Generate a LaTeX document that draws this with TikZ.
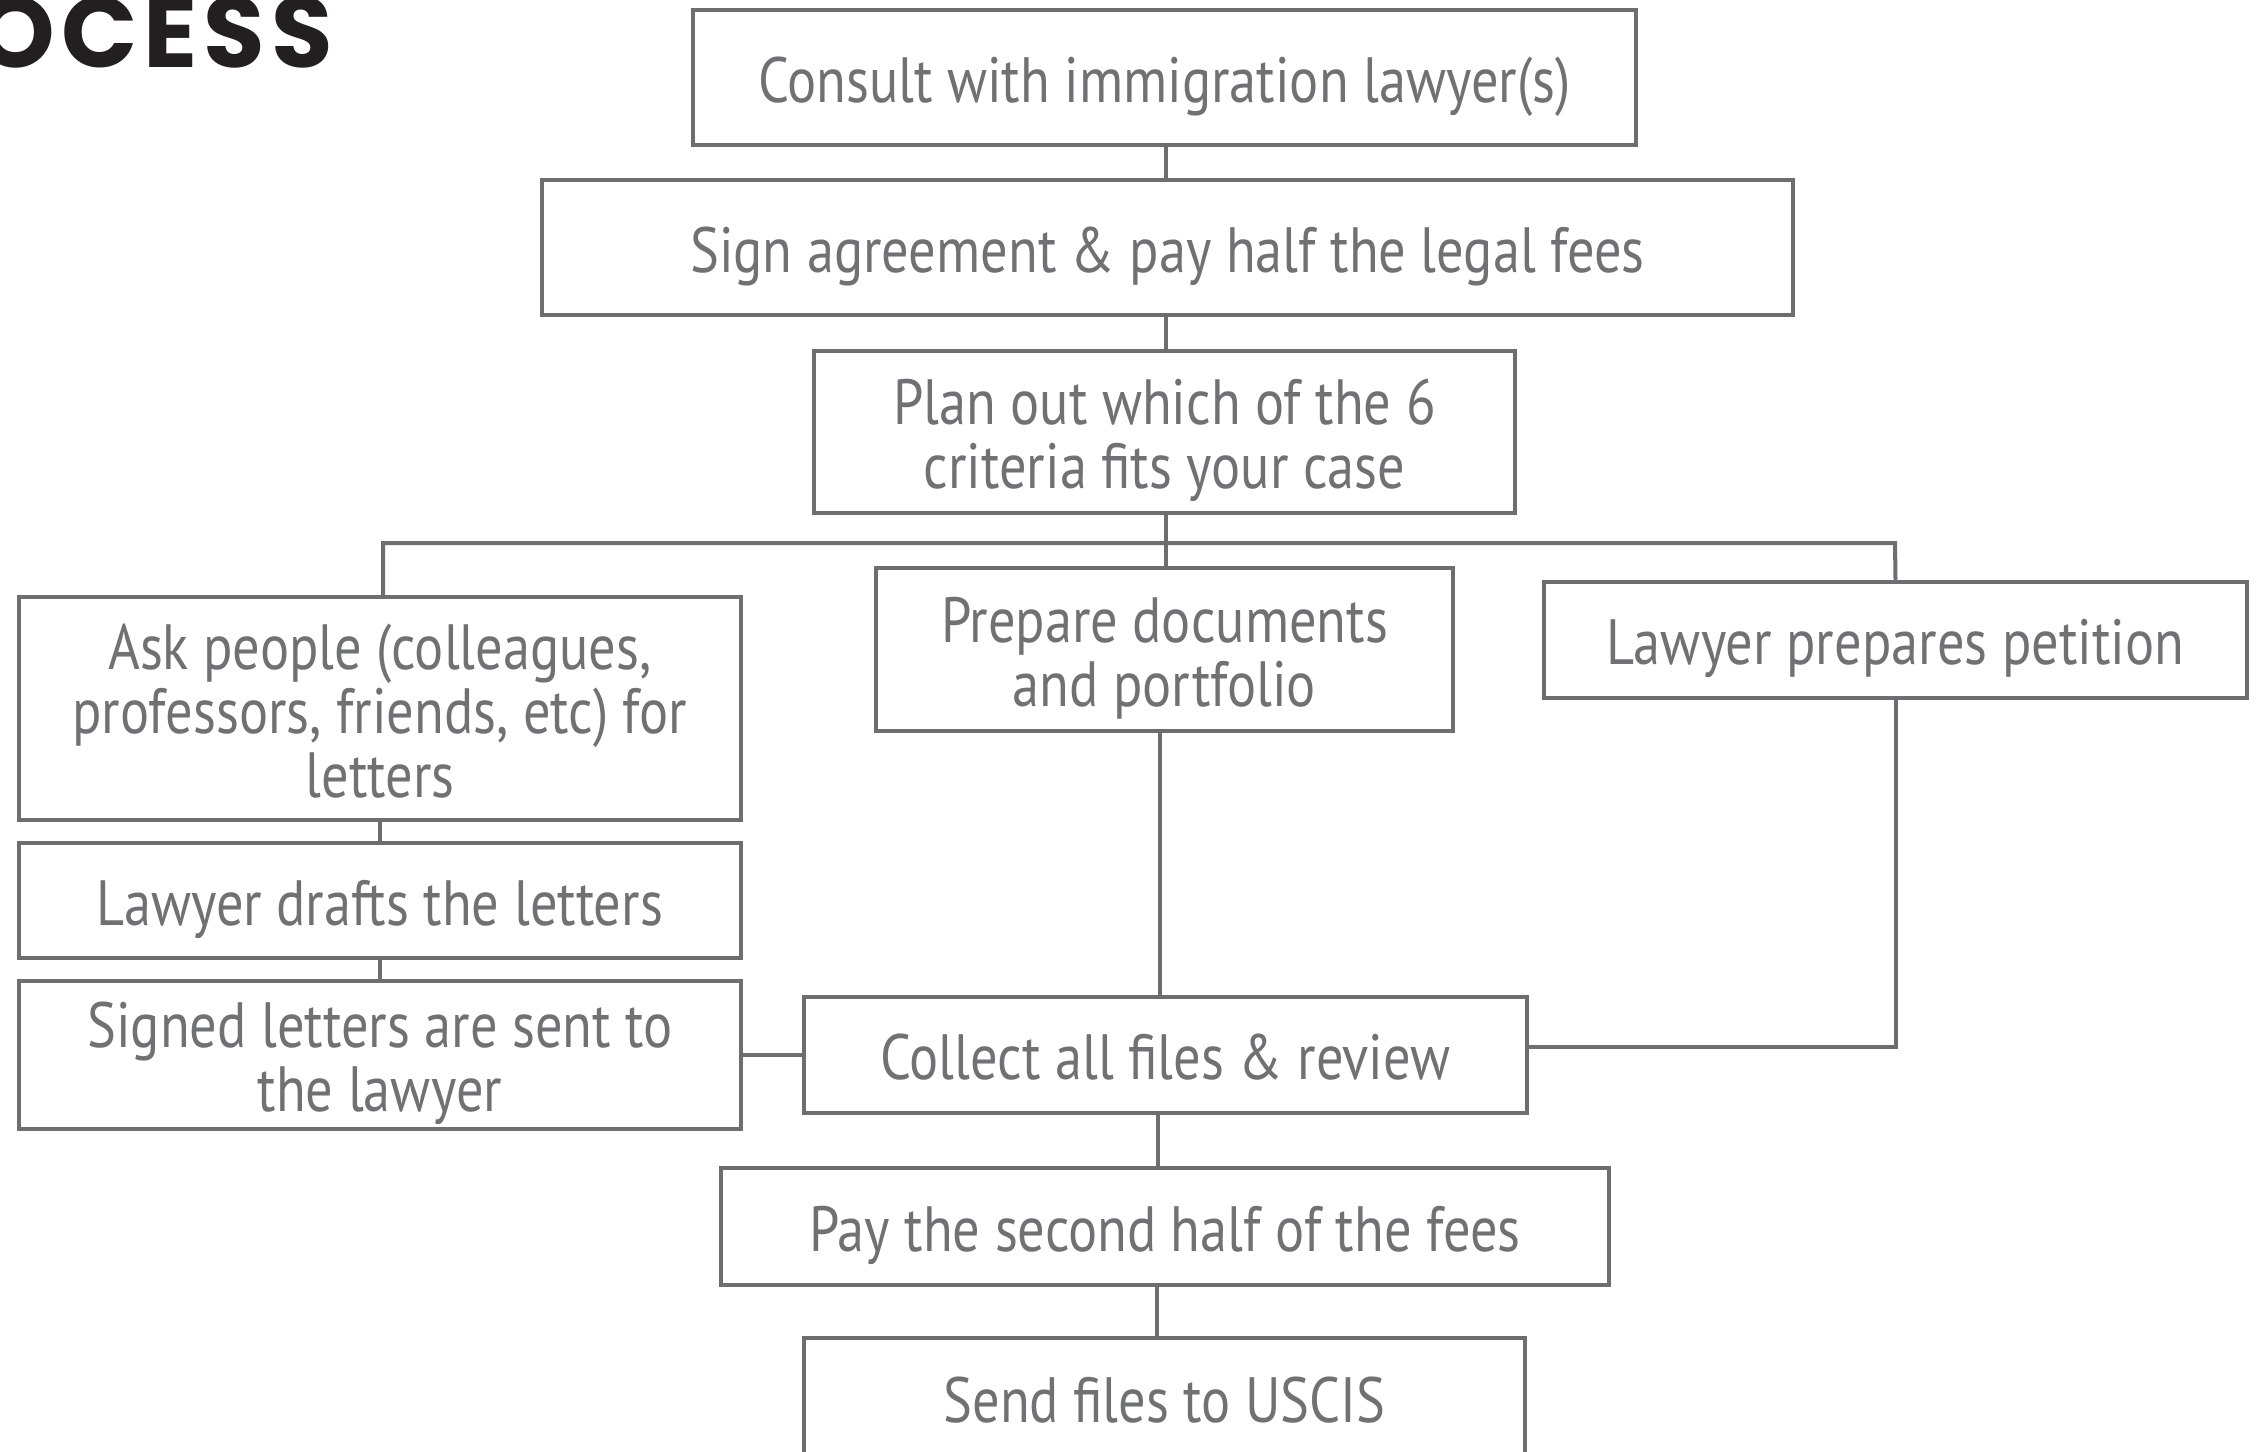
\documentclass[tikz,border=0pt]{standalone}
\usepackage{fontspec}
\setmainfont{PT Sans}[FakeStretch=0.85]
\newfontfamily\titlefont{Poppins}[LetterSpace=6]
\usetikzlibrary{calc}
\definecolor{boxgray}{HTML}{6D6E71}
\definecolor{textgray}{HTML}{707174}
\definecolor{titledark}{HTML}{231F20}
\newcommand{\tops}{\rule{0pt}{65pt}}
\newcommand{\bots}{\rule[-16pt]{0pt}{0pt}}
\tikzset{
  stepbox/.style={draw=boxgray, line width=4.5pt, rectangle, inner sep=0pt,
    text=textgray, align=center, font=\fontsize{64}{64}\selectfont},
  link/.style={draw=boxgray, line width=4pt}
}
\begin{document}
\begin{tikzpicture}[x=1pt,y=-1pt]
\useasboundingbox[fill=white] (0,0) rectangle (2256,1451);
\node[anchor=base east, text=titledark, inner sep=0pt,
  font=\titlefont\bfseries\fontsize{100}{100}\selectfont] (title) at (333,67) {OCESS};

\node[stepbox, minimum width=943, minimum height=135] (consult) at (1164.5,77.5) {\tops Consult with immigration lawyer(s)\bots};
\node[stepbox, minimum width=1251, minimum height=135] (sign) at (1167.5,247.5) {\tops Sign agreement \& pay half the legal fees\bots};
\node[stepbox, minimum width=701, minimum height=162] (plan) at (1164.5,432) {\tops Plan out which of the 6\\criteria fits your case\bots};
\node[stepbox, minimum width=722, minimum height=223] (ask) at (380,708.5) {\tops Ask people (colleagues,\\professors, friends, etc) for\\letters\bots};
\node[stepbox, minimum width=577, minimum height=163] (prep) at (1164.5,649.5) {\tops Prepare documents\\and portfolio\bots};
\node[stepbox, minimum width=703, minimum height=116] (petition) at (1895.5,640) {\tops Lawyer prepares petition\bots};
\node[stepbox, minimum width=722, minimum height=115] (drafts) at (380,900.5) {\tops Lawyer drafts the letters\bots};
\node[stepbox, minimum width=722, minimum height=148] (signed) at (380,1055) {\tops Signed letters are sent to\\the lawyer\bots};
\node[stepbox, minimum width=723, minimum height=116] (collect) at (1165.5,1055) {\tops Collect all files \& review\bots};
\node[stepbox, minimum width=888, minimum height=117] (pay) at (1165,1226.5) {\tops Pay the second half of the fees\bots};
\node[stepbox, minimum width=721, minimum height=120] (send) at (1164.5,1398) {\tops Send files to USCIS\bots};

\coordinate (bl) at (383,543);
\coordinate (br) at (1895,543);

\draw[link] ([xshift=1.5pt]consult.south) -- ([xshift=1.5pt]consult.south |- sign.north);
\draw[link] ([xshift=1.5pt]plan.north |- sign.south) -- ([xshift=1.5pt]plan.north);
\draw[link] ([xshift=1.5pt]plan.south) -- ([xshift=1.5pt]plan.south |- prep.north);
\draw[link] (bl |- ask.north) -- (bl) -- (br) -- (petition.north);
\draw[link] (ask.south) -- (drafts.north);
\draw[link] (drafts.south) -- (signed.north);
\draw[link] ([xshift=-4.5pt]prep.south) -- ([xshift=-4.5pt]prep.south |- collect.north);
\draw[link] (petition.south) |- ([yshift=8pt]collect.east);
\draw[link] (signed.east) -- (collect.west);
\draw[link] ([xshift=-8pt]collect.south) -- ([xshift=-8pt]collect.south |- pay.north);
\draw[link] ([xshift=-8pt]pay.south) -- ([xshift=-8pt]pay.south |- send.north);
\end{tikzpicture}
\end{document}
